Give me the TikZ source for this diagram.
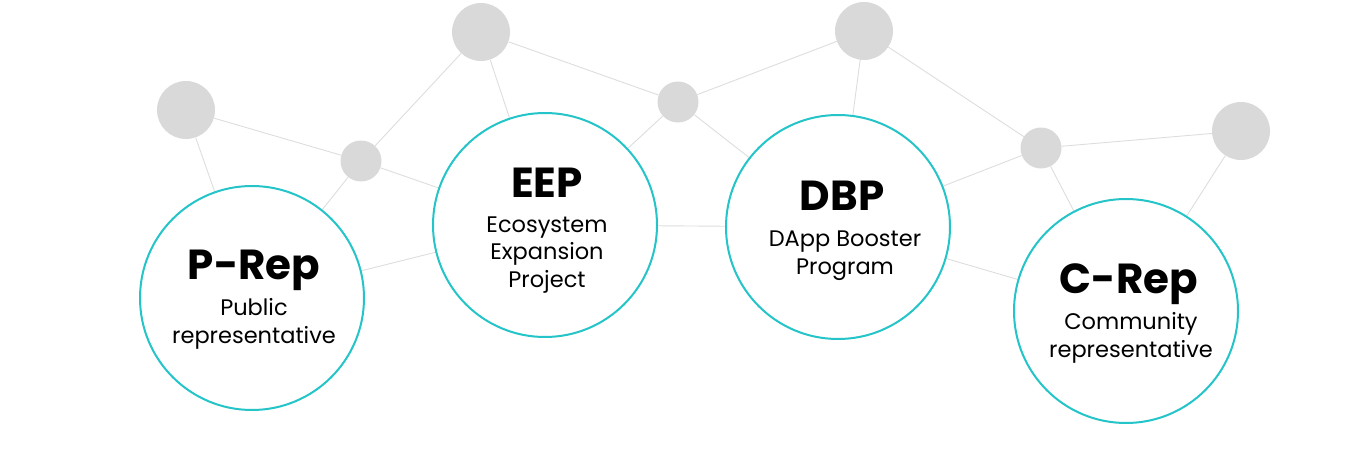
\documentclass[tikz,border=0pt]{standalone}
\usepackage{fontspec}
\setmainfont{Poppins}
\usetikzlibrary{positioning, backgrounds}
\definecolor{repteal}{RGB}{36, 196, 200}
\definecolor{dotgray}{RGB}{217, 217, 217}
\definecolor{linkgray}{RGB}{221, 221, 221}

\begin{document}
\begin{tikzpicture}[
        x=1pt, y=-1pt,
        hub/.style={circle, draw=repteal, line width=2pt, fill=white, minimum size=224pt, inner sep=0pt},
        bigdot/.style={circle, fill=dotgray, minimum size=58pt, inner sep=0pt},
        smalldot/.style={circle, fill=dotgray, minimum size=41pt, inner sep=0pt},
        title/.style={anchor=base, font=\fontsize{42}{48}\selectfont\bfseries},
        sub/.style={anchor=base, align=center, font=\fontsize{22.5}{27.5}\selectfont},
        link/.style={draw=linkgray, line width=0.9pt}
    ]
        \useasboundingbox (0,0) rectangle (1366,455);

        % Hubs
        \node[hub] (prep) at (252,298) {};
        \node[hub] (eep) at (545,225) {};
        \node[hub] (dbp) at (838,227) {};
        \node[hub] (crep) at (1126,311) {};

        % Gray dots
        \node[bigdot] (d1) at (186,110) {};
        \node[smalldot] (d2) at (361,161) {};
        \node[bigdot] (d3) at (481,32) {};
        \node[smalldot] (d4) at (678,102) {};
        \node[bigdot] (d5) at (864,31) {};
        \node[smalldot] (d6) at (1041,148) {};
        \node[bigdot] (d7) at (1241,131) {};

        % Labels (sub base = last line)
        \node[title] (prept) at (254,279) {P-Rep};
        \node[sub] (preps) at (254,343) {Public\\representative};
        \node[title] (eept) at (547,197) {EEP};
        \node[sub] (eeps) at (547,287) {Ecosystem\\Expansion\\Project};
        \node[title] (dbpt) at (842,210) {DBP};
        \node[sub] (dbps) at (845,274) {DApp Booster\\Program};
        \node[title] (crept) at (1129,293) {C-Rep};
        \node[sub] (creps) at (1131,357) {Community\\representative};

        % Links
        \begin{scope}[on background layer]
            \draw[link] (d1) -- (d2);
            \draw[link] (d1) -- (prep);
            \draw[link] (d2) -- (prep);
            \draw[link] (d2) -- (d3);
            \draw[link] (d2) -- (eep);
            \draw[link] (d3) -- (eep);
            \draw[link] (d3) -- (d4);
            \draw[link] (d4) -- (eep);
            \draw[link] (d4) -- (dbp);
            \draw[link] (d4) -- (d5);
            \draw[link] (d5) -- (dbp);
            \draw[link] (d5) -- (d6);
            \draw[link] (d6) -- (dbp);
            \draw[link] (d6) -- (d7);
            \draw[link] (d6) -- (crep);
            \draw[link] (d7) -- (crep);
            \draw[link] (prep.center) -- (eep.center);
            \draw[link] (eep.center) -- (dbp.center);
            \draw[link] (dbp.center) -- (crep.center);
        \end{scope}
    \end{tikzpicture}
\end{document}
